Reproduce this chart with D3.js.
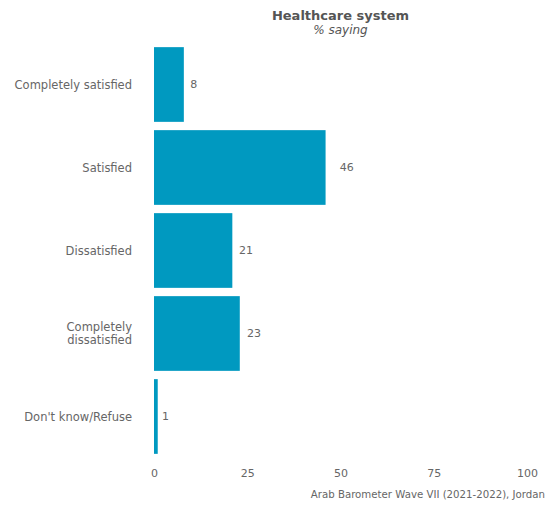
<!DOCTYPE html>
<html>
<head>
<meta charset="utf-8">
<script src="https://cdn.jsdelivr.net/npm/d3@7"></script>
<style>
body { margin: 0; background: #fff; }
svg { display: block; font-family: "DejaVu Sans", sans-serif; }
</style>
</head>
<body>
<svg id="chart" width="549" height="506"></svg>
<script>
const categories = ["Completely satisfied", "Satisfied", "Dissatisfied", "Completely dissatisfied", "Don't know/Refuse"];
const values = [8, 46, 21, 23, 1];
const tickValues = [0, 25, 50, 75, 100];
const title = "Healthcare system";
const subtitle = "% saying";
const caption = "Arab Barometer Wave VII (2021-2022), Jordan";

const svg = d3.select("#chart");
const x = d3.scaleLinear().domain([0, 100]).range([154, 527]);
const y = d3.scaleBand().domain(categories).range([43, 458]).paddingInner(0.1).paddingOuter(0.05);
const textColor = "#666666";

svg.append("g").selectAll("rect").data(values).join("rect")
  .attr("x", x(0))
  .attr("y", (d, i) => y(categories[i]))
  .attr("width", d => x(d) - x(0))
  .attr("height", y.bandwidth())
  .attr("fill", "#0099c0");

svg.append("g").selectAll("text").data(values).join("text")
  .attr("x", d => x(d * 1.08 + 2))
  .attr("y", (d, i) => y(categories[i]) + y.bandwidth() / 2)
  .attr("dy", "0.35em")
  .attr("text-anchor", "middle")
  .attr("font-size", 11)
  .attr("fill", textColor)
  .text(d => d);

// category labels
const catG = svg.append("g");
categories.forEach(c => {
  const lines = c === "Completely dissatisfied" ? ["Completely", "dissatisfied"] : [c];
  const cy = y(c) + y.bandwidth() / 2;
  const t = catG.append("text")
    .attr("text-anchor", "end")
    .attr("font-size", 11.5)
    .attr("fill", textColor);
  lines.forEach((l, i) => {
    t.append("tspan")
      .attr("x", 132)
      .attr("y", cy + (i - (lines.length - 1) / 2) * 13)
      .attr("dy", "0.35em")
      .text(l);
  });
});

// x axis
const xAxis = d3.axisBottom(x).tickValues(tickValues).tickSize(0).tickPadding(0);
const ax = svg.append("g").attr("transform", "translate(0,469)").call(xAxis);
ax.select(".domain").remove();
ax.selectAll("text").attr("font-size", 11).attr("fill", textColor).attr("font-family", "DejaVu Sans, sans-serif");

svg.append("text")
  .attr("x", 340.5).attr("y", 20)
  .attr("text-anchor", "middle")
  .attr("font-size", 13).attr("font-weight", "bold")
  .attr("fill", "#555")
  .text(title);
svg.append("text")
  .attr("x", 340.5).attr("y", 33.5)
  .attr("text-anchor", "middle")
  .attr("font-size", 12).attr("font-style", "italic")
  .attr("fill", "#555")
  .text(subtitle);
svg.append("text")
  .attr("x", 545).attr("y", 498)
  .attr("text-anchor", "end")
  .attr("font-size", 10.2)
  .attr("fill", textColor)
  .text(caption);
</script>
</body>
</html>
